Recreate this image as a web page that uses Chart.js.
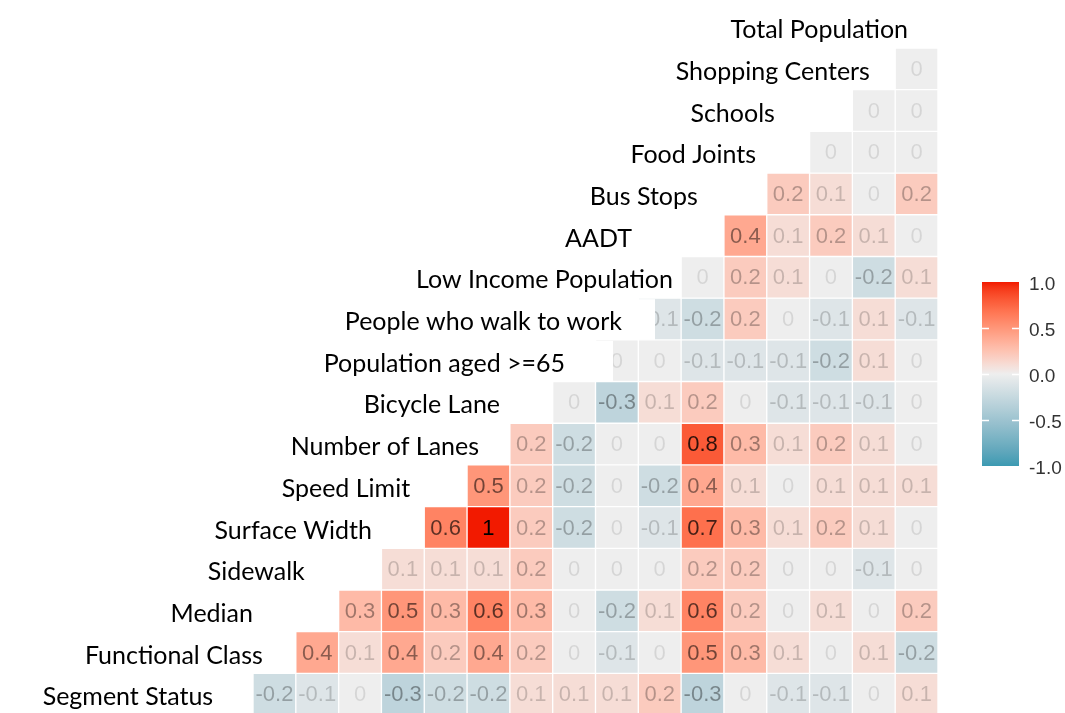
<!DOCTYPE html>
<html>
<head>
<meta charset="utf-8">
<script src="https://cdn.jsdelivr.net/npm/chart.js@4/dist/chart.umd.min.js"></script>
<style>
  html, body { margin: 0; padding: 0; background: #ffffff; }
  #wrap { width: 1065px; height: 713px; position: relative; }
</style>
</head>
<body>
<div id="wrap"><canvas id="corr"></canvas></div>
<script>
// Variables, top to bottom along the diagonal
const variables = [
  'Total Population', 'Shopping Centers', 'Schools', 'Food Joints', 'Bus Stops',
  'AADT', 'Low Income Population', 'People who walk to work', 'Population aged >=65',
  'Bicycle Lane', 'Number of Lanes', 'Speed Limit', 'Surface Width', 'Sidewalk',
  'Median', 'Functional Class', 'Segment Status'
];

// Correlation coefficients of each variable with the variables above it
// (listed left to right as they appear in the row)
const corrShoppingCenters = [0];
const corrSchools = [0, 0];
const corrFoodJoints = [0, 0, 0];
const corrBusStops = [0.2, 0.1, 0, 0.2];
const corrAADT = [0.4, 0.1, 0.2, 0.1, 0];
const corrLowIncome = [0, 0.2, 0.1, 0, -0.2, 0.1];
const corrWalkToWork = [-0.1, -0.2, 0.2, 0, -0.1, 0.1, -0.1];
const corrAged65 = [0, 0, -0.1, -0.1, -0.1, -0.2, 0.1, 0];
const corrBicycleLane = [0, -0.3, 0.1, 0.2, 0, -0.1, -0.1, -0.1, 0];
const corrNumberOfLanes = [0.2, -0.2, 0, 0, 0.8, 0.3, 0.1, 0.2, 0.1, 0];
const corrSpeedLimit = [0.5, 0.2, -0.2, 0, -0.2, 0.4, 0.1, 0, 0.1, 0.1, 0.1];
const corrSurfaceWidth = [0.6, 1, 0.2, -0.2, 0, -0.1, 0.7, 0.3, 0.1, 0.2, 0.1, 0];
const corrSidewalk = [0.1, 0.1, 0.1, 0.2, 0, 0, 0, 0.2, 0.2, 0, 0, -0.1, 0];
const corrMedian = [0.3, 0.5, 0.3, 0.6, 0.3, 0, -0.2, 0.1, 0.6, 0.2, 0, 0.1, 0, 0.2];
const corrFunctionalClass = [0.4, 0.1, 0.4, 0.2, 0.4, 0.2, 0, -0.1, 0, 0.5, 0.3, 0.1, 0, 0.1, -0.2];
const corrSegmentStatus = [-0.2, -0.1, 0, -0.3, -0.2, -0.2, 0.1, 0.1, 0.1, 0.2, -0.3, 0, -0.1, -0.1, 0, 0.1];

// Colour bar tick labels
const legendTicks = [1.0, 0.5, 0.0, -0.5, -1.0];

const rows = [
  corrShoppingCenters, corrSchools, corrFoodJoints, corrBusStops, corrAADT,
  corrLowIncome, corrWalkToWork, corrAged65, corrBicycleLane, corrNumberOfLanes,
  corrSpeedLimit, corrSurfaceWidth, corrSidewalk, corrMedian, corrFunctionalClass,
  corrSegmentStatus
];
const nCols = rows.length;

// Columns run left to right from 'Functional Class' to 'Total Population'
const columns = variables.slice(0, nCols).reverse();

// ---- diverging fill: low / mid / high blended in CIE Lab ----
const LOW = '#3B9AB2', MID = '#EEEEEE', HIGH = '#F21A00';
function hexToRgb(h) {
  return [1, 3, 5].map(i => parseInt(h.slice(i, i + 2), 16));
}
function toLin(c) { c /= 255; return c <= 0.04045 ? c / 12.92 : Math.pow((c + 0.055) / 1.055, 2.4); }
function fromLin(c) { const v = c <= 0.0031308 ? 12.92 * c : 1.055 * Math.pow(c, 1 / 2.4) - 0.055; return Math.max(0, Math.min(255, Math.round(v * 255))); }
const WX = 0.95047, WY = 1.0, WZ = 1.08883;
function rgbToLab(rgb) {
  const [r, g, b] = rgb.map(toLin);
  const x = (0.4124 * r + 0.3576 * g + 0.1805 * b) / WX;
  const y = (0.2126 * r + 0.7152 * g + 0.0722 * b) / WY;
  const z = (0.0193 * r + 0.1192 * g + 0.9505 * b) / WZ;
  const f = t => t > 0.008856 ? Math.cbrt(t) : 7.787 * t + 16 / 116;
  const fx = f(x), fy = f(y), fz = f(z);
  return [116 * fy - 16, 500 * (fx - fy), 200 * (fy - fz)];
}
function labToRgb([L, A, B]) {
  const fy = (L + 16) / 116, fx = fy + A / 500, fz = fy - B / 200;
  const inv = t => t * t * t > 0.008856 ? t * t * t : (t - 16 / 116) / 7.787;
  const x = inv(fx) * WX, y = inv(fy) * WY, z = inv(fz) * WZ;
  const r = 3.2406 * x - 1.5372 * y - 0.4986 * z;
  const g = -0.9689 * x + 1.8758 * y + 0.0415 * z;
  const b = 0.0557 * x - 0.2040 * y + 1.0570 * z;
  return [fromLin(r), fromLin(g), fromLin(b)];
}
const labLow = rgbToLab(hexToRgb(LOW)), labMid = rgbToLab(hexToRgb(MID)), labHigh = rgbToLab(hexToRgb(HIGH));
function fillFor(v) {
  const t = Math.min(1, Math.abs(v));
  const end = v < 0 ? labLow : labHigh;
  const lab = labMid.map((m, i) => m + (end[i] - m) * t);
  const [r, g, b] = labToRgb(lab);
  return `rgb(${r},${g},${b})`;
}

// ---- one floating-bar dataset per row ----
const datasets = rows.map((vals, ri) => {
  const r = ri + 1;
  const start = nCols - vals.length;
  const data = [], colors = [], values = [];
  for (let c = 0; c < nCols; c++) {
    if (c >= start) {
      const v = vals[c - start];
      data.push([r - 0.5, r + 0.5]);
      colors.push(fillFor(v));
      values.push(v);
    } else {
      data.push(null);
      colors.push('rgba(0,0,0,0)');
      values.push(null);
    }
  }
  return {
    label: variables[r],
    data,
    corr: values,
    backgroundColor: colors,
    borderColor: '#ffffff',
    borderWidth: 1,
    borderSkipped: false,
    grouped: false,
    barPercentage: 1,
    categoryPercentage: 1
  };
});

// Right edge of each diagonal label, in column units from the left edge of the grid
const labelRight = [15.30, 14.41, 12.19, 11.75, 10.39, 8.85, 9.81, 8.62, 7.29,
                    5.77, 5.28, 3.67, 2.78, 1.21, 0.00, 0.23, -0.93];
// Where a label's white backing reaches further right than its text (column units)
const labelBoxRight = [null, null, null, null, null, null, null, 9.39, 8.41,
                       null, null, null, null, null, null, null, null];

const cellText = {
  id: 'cellText',
  afterDatasetsDraw(chart) {
    const ctx = chart.ctx;
    ctx.save();
    ctx.font = '22px "Liberation Sans", Arial, sans-serif';
    ctx.textAlign = 'center';
    ctx.textBaseline = 'middle';
    chart.data.datasets.forEach((ds, di) => {
      const meta = chart.getDatasetMeta(di);
      meta.data.forEach((el, i) => {
        const v = ds.corr[i];
        if (v === null || v === undefined) return;
        const a = 0.1 + 0.9 * Math.min(1, Math.abs(v));
        ctx.fillStyle = `rgba(0,0,0,${a.toFixed(3)})`;
        const { x, base, y } = el.getProps(['x', 'base', 'y'], true);
        ctx.fillText(String(v), x, (y + base) / 2 + 1);
      });
    });
    ctx.restore();
  }
};

const diagonalLabels = {
  id: 'diagonalLabels',
  afterDraw(chart) {
    const ctx = chart.ctx;
    const xs = chart.scales.x, ys = chart.scales.y;
    const rowH = Math.abs(ys.getPixelForValue(1) - ys.getPixelForValue(0));
    ctx.save();
    ctx.font = '25px Lato, "Open Sans", sans-serif';
    ctx.textAlign = 'right';
    ctx.textBaseline = 'middle';
    variables.forEach((name, r) => {
      const xr = xs.getPixelForValue(labelRight[r] - 0.5);
      const yc = ys.getPixelForValue(r);
      const w = ctx.measureText(name).width;
      const boxR = labelBoxRight[r] !== null ? xs.getPixelForValue(labelBoxRight[r] - 0.5) : xr + 4;
      ctx.fillStyle = '#ffffff';
      ctx.fillRect(xr - w - 6, yc - rowH / 2 + 1, boxR - (xr - w - 6), rowH - 1);
      ctx.fillStyle = '#000000';
      ctx.fillText(name, xr, yc + 3);
    });
    ctx.restore();
  }
};

const colorBar = {
  id: 'colorBar',
  afterDraw(chart) {
    const ctx = chart.ctx;
    const x0 = 982, w = 37, yMid = 374, half = 92;
    const yFor = v => yMid - v * half;
    ctx.save();
    const grad = ctx.createLinearGradient(0, yFor(1), 0, yFor(-1));
    for (let k = 0; k <= 40; k++) {
      const v = 1 - k / 20;
      grad.addColorStop(k / 40, fillFor(v));
    }
    ctx.fillStyle = grad;
    ctx.fillRect(x0, yFor(1), w, yFor(-1) - yFor(1));
    ctx.strokeStyle = '#ffffff';
    ctx.lineWidth = 1.5;
    legendTicks.forEach(t => {
      if (Math.abs(t) === 1) return;
      const y = Math.round(yFor(t)) + 0.5;
      ctx.beginPath();
      ctx.moveTo(x0, y); ctx.lineTo(x0 + 7, y);
      ctx.moveTo(x0 + w - 7, y); ctx.lineTo(x0 + w, y);
      ctx.stroke();
    });
    ctx.fillStyle = '#333333';
    ctx.font = '19px "Liberation Sans", Arial, sans-serif';
    ctx.textAlign = 'left';
    ctx.textBaseline = 'middle';
    legendTicks.forEach(t => {
      ctx.fillText(t.toFixed(1), 1029, yFor(t) + 3);
    });
    ctx.restore();
  }
};

new Chart(document.getElementById('corr'), {
  type: 'bar',
  data: { labels: columns, datasets },
  options: {
    responsive: true,
    maintainAspectRatio: false,
    animation: false,
    events: [],
    layout: { padding: { left: 253, right: 127, top: 48, bottom: 0 } },
    plugins: { legend: { display: false }, tooltip: { enabled: false } },
    scales: {
      x: { type: 'category', display: false, offset: true },
      y: { type: 'linear', display: false, min: 0.5, max: 16.45, reverse: true }
    }
  },
  plugins: [cellText, diagonalLabels, colorBar]
});
</script>
</body>
</html>
